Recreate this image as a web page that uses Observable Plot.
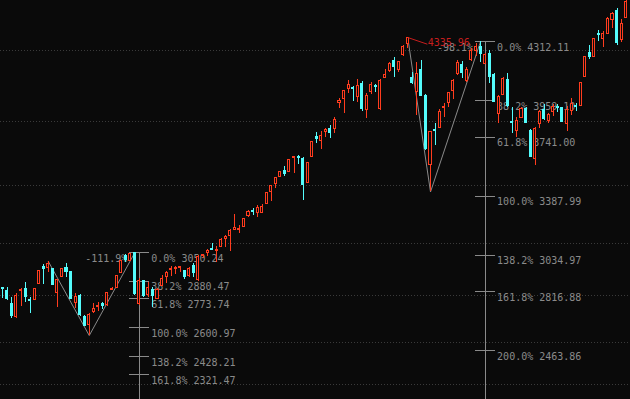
<!DOCTYPE html>
<html><head><meta charset="utf-8">
<script src="https://cdn.jsdelivr.net/npm/d3@7"></script>
<script src="https://cdn.jsdelivr.net/npm/@observablehq/plot@0.6"></script>
<style>html,body{margin:0;padding:0;background:#0a0a0a;overflow:hidden}</style>
</head><body><div id="chart"></div>
<script>
// Daily candles (index 0 = leftmost visible bar)
const opens = [2838,2824,2745,2665,2824,2832,2767,2769,2862,2966,2957,2950,2808,2904,2960,2934,2751,2794,2665,2619,
2697,2726,2745,2739,2830,2838,2928,3029,3003,3048,2744,2880,2797,2827,2776,2854,2904,2947,2951,2960,
2938,2908,2968,2884,3030,3047,3075,3060,3087,3131,3151,3185,3184,3202,3272,3299,3286,3290,3342,3412,
3462,3505,3541,3531,3613,3619,3611,3465,3621,3740,3716,3770,3790,3790,3943,3970,4029,4034,3979,4059,
3900,4009,4046,3906,4095,4133,4197,4139,4233,4298,4094,4009,4139,3989,3574,3786,3795,3912,3943,4019,
4119,4169,4079,4199,4254,4278,4179,4239,4109,3880,3995,4083,3834,3780,3856,3910,3780,3611,3820,3900,
3836,3888,3921,3915,3820,3897,3924,3924,4099,4246,4217,4354,4328,4358,4442,4497,4322,4454];
const highs = [2838,2844,2784,2805,2838,2870,2784,2838,2941,2978,2998,2953,2888,2954,2984,2936,2805,2799,2675,2685,
2745,2754,2754,2814,2844,2914,3003,3039,3045,3050.24,2896,2884,2872,2844,2838,2914,2938,2969,2969,2969,
2941,2959,2984,3033,3039,3067,3103,3087,3133,3151,3187,3278,3211,3257,3302,3312,3332,3336,3406,3452,
3501,3535,3565,3604,3625,3631,3617,3591,3715,3770,3776,3794,3810,3856,3970,4019,4079,4043,4083,4073,
4000,4065,4053,4085,4145,4185,4215,4193,4288,4335.96,4127,4185,4199,3994,3774,3822,3903,3940,4009,4083,
4199,4193,4159,4269,4298,4312.11,4240,4258,4119,3989,4099,4119,3920,3860,3920,3916,3784,3800,3900,3936,
3884,3936,3936,3920,3924,3973,3940,4069,4218,4288,4330,4378,4374,4454,4487,4511,4442,4557];
const lows = [2778,2764,2659,2659,2730,2754,2685,2764,2859,2858,2934,2854,2724,2900,2904,2770,2715,2671,2614,2555,
2685,2699,2711,2730,2824,2834,2924,2993,2998,2794,2735,2784,2785,2724,2773,2850,2864,2910,2918,2934,
2890,2902,2904,2878,3014,3027,3063,2993,3079,3083,3059,3183,3163,3198,3262,3272,3262,3282,3338,3358,
3436,3498,3505,3528,3522,3577,3362,3462,3617,3701,3665,3740,3731,3764,3910,3884,4000,3955,3949,3896,
3854,3994,4009,3900,4089,4125,4099,4129,4224,4272,4055,3870,3983,3661,3413,3691,3790,3856,3920,3964,
4109,4089,4069,4195,4222,4188,4175,4059,3949,3820,3989,3920,3761,3740,3850,3820,3617,3571,3790,3840,
3820,3864,3890,3828,3776,3870,3894,3922,4097,4203,4216,4314,4278,4356,4388,4288,4308,4450];
const closes = [2832,2775,2671,2794,2830,2784,2761,2834,2938,2950,2980,2860,2884,2950,2934,2775,2788,2675,2615,2679,
2715,2732,2730,2810,2836,2910,2998,3009,3044,2805,2881,2794,2839,2791,2830,2894,2930,2953,2957,2966,
2902,2954,2930,3023,3036,3063,3069,3066,3127,3143,3181,3199,3190,3253,3296,3293,3318,3326,3404,3446,
3498,3531,3522,3601,3619,3613,3452,3587,3713,3727,3750,3786,3764,3844,3955,4015,4053,4028,4047,3906,
3989,4053,4040,4079,4113,4179,4159,4188,4278,4334,4064,4115,3989,3671,3771,3780,3892,3918,4003,4079,
4185,4123,4143,4258,4278,4239,4234,4099,3950,3979,4089,3924,3828,3840,3910,3824,3621,3790,3890,3850,
3870,3922,3915,3830,3900,3936,3918,4067,4217,4217,4328,4348,4354,4448,4478,4302,4414,4548];

// Horizontal dotted grid levels
const gridPrices = [4256, 3834, 3450, 3104, 2792, 2512, 2264];

// Fibonacci tool A (lower left)
const fibPctA = [0, 38.2, 61.8, 100, 138.2, 161.8];
const fibPriceA = [3050.24, 2880.47, 2773.74, 2600.97, 2428.21, 2321.47];
const fibAnchorA = 30;
const fibChangeA = "-111.9%";
const swingA = [10, 19, 29];

// Fibonacci tool B (upper right)
const fibPctB = [0, 38.2, 61.8, 100, 138.2, 161.8, 200];
const fibPriceB = [4312.11, 3959.10, 3741.00, 3387.99, 3034.97, 2816.88, 2463.86];
const fibAnchorB = 106;
const fibChangeB = "-98.1%";
const swingB = [89, 94, 105];

// Peak marker
const peakIndex = 89;
const peakLabel = "4335.96";

const BG = "#0a0a0a", UP = "#ff3c1e", DOWN = "#54fcfc", GRAY = "#8a8a8a", MARK = "#c81e1e";
const FONT = "DejaVu Sans Mono";

const candles = opens.map((o, i) => ({i, open: o, high: highs[i], low: lows[i], close: closes[i], up: closes[i] >= o}));
const swingPts = (idx) => idx.map((k, j) => ({i: k, p: j % 2 === 0 ? highs[k] : lows[k]}));
const fibRows = (pcts, prices, anchor) => pcts.map((p, j) => ({anchor, pct: p, price: prices[j],
  label: p.toFixed(1) + "% " + prices[j].toFixed(2)}));
const fibA = fibRows(fibPctA, fibPriceA, fibAnchorA);
const fibB = fibRows(fibPctB, fibPriceB, fibAnchorB);
const yMin = 2172.8, yMax = 4557.1;

function fibMarks(rows, change) {
  const a = rows[0].anchor;
  return [
    Plot.ruleX([a], {x: d => d, y1: rows[0].price, y2: yMin, stroke: GRAY, strokeWidth: 1, shapeRendering: "crispEdges"}),
    Plot.ruleY(rows, {y: "price", x1: d => d.anchor - 2.2, x2: d => d.anchor + 2.2, stroke: GRAY, shapeRendering: "crispEdges"}),
    Plot.text(rows, {x: "anchor", y: "price", text: "label", dx: 12, dy: 6, textAnchor: "start", fill: GRAY, fontFamily: FONT, fontSize: 10}),
    Plot.text([change], {x: a, y: rows[0].price, text: d => d, dx: -12, dy: 6, textAnchor: "end", fill: GRAY, fontFamily: FONT, fontSize: 10})
  ];
}

const chart = Plot.plot({
  width: 630, height: 399,
  marginTop: 0, marginBottom: 0, marginLeft: 0, marginRight: 0,
  style: {background: BG, overflow: "visible"},
  x: {type: "linear", domain: [0, 137], range: [2.3, 625.65], axis: null},
  y: {domain: [yMin, yMax], range: [399, 0], axis: null},
  marks: [
    Plot.ruleY(gridPrices, {stroke: "#3a3a3a", strokeDasharray: "1,2", shapeRendering: "crispEdges"}),
    ...fibMarks(fibA, fibChangeA),
    ...fibMarks(fibB, fibChangeB),
    Plot.line(swingPts(swingA), {x: "i", y: "p", stroke: GRAY, strokeWidth: 1}),
    Plot.line(swingPts(swingB), {x: "i", y: "p", stroke: GRAY, strokeWidth: 1}),
    Plot.ruleX(candles, {x: "i", y1: "low", y2: "high", stroke: d => d.up ? UP : DOWN, shapeRendering: "crispEdges"}),
    Plot.rect(candles, {x1: d => d.i - 0.22, x2: d => d.i + 0.22, y1: "open", y2: "close",
      fill: d => d.up ? BG : DOWN, stroke: d => d.up ? UP : DOWN, strokeWidth: 1, shapeRendering: "crispEdges"}),
    Plot.link([peakIndex], {x1: d => d, y1: d => highs[d], x2: d => d + 4.3, y2: d => highs[d] - 40, stroke: MARK}),
    Plot.text([peakIndex], {x: d => d, y: d => highs[d], text: () => peakLabel, dx: 20, dy: 5, textAnchor: "start", fill: MARK, fontFamily: FONT, fontSize: 10})
  ]
});
document.getElementById("chart").appendChild(chart);
</script>
</body></html>
